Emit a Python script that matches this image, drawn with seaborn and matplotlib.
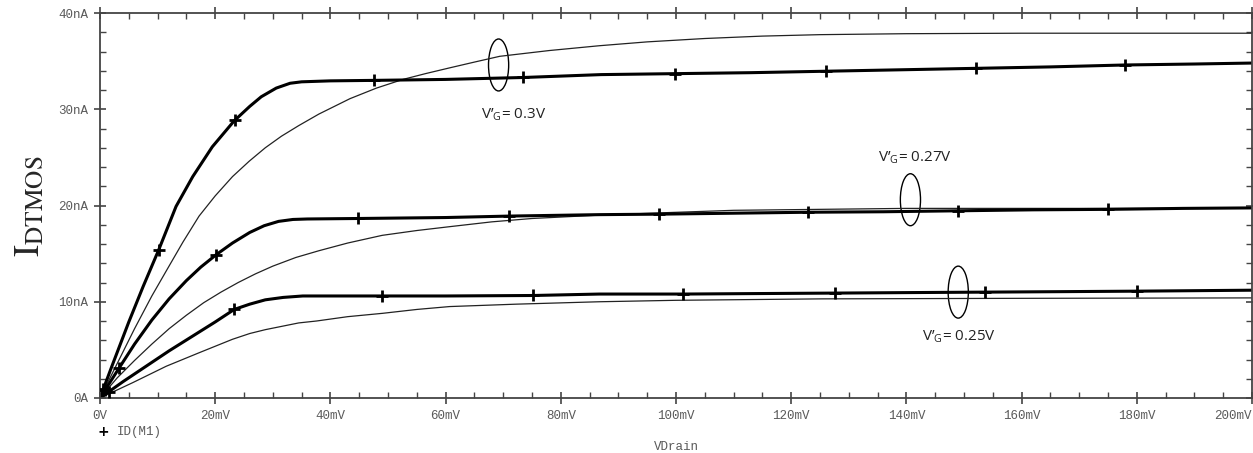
import matplotlib
matplotlib.use('Agg')
import numpy as np
import pandas as pd
import matplotlib.pyplot as plt
import seaborn as sns
from matplotlib.patches import Ellipse
from matplotlib.ticker import MultipleLocator

# --- data (VDrain in mV, ID in nA) ---
# thick curves = ID(M1), thin curves = model
vd_thick_03 = [0, 2, 5, 7.5, 10.2, 13.2, 16.1, 19.5, 23.3, 26, 28, 30.6, 33, 35, 40, 47.6, 60, 73.5,
               87, 100, 113, 126, 139, 152, 165, 178, 190, 200]
id_thick_03 = [0, 3.2, 7.9, 11.6, 15.4, 19.9, 23.0, 26.1, 28.8, 30.3, 31.3, 32.2, 32.7, 32.85, 32.95, 33.0,
               33.1, 33.3, 33.6, 33.7, 33.8, 33.95, 34.1, 34.25, 34.4, 34.6, 34.7, 34.8]

vd_thin_03 = [0, 3, 6, 9, 11.5, 14.4, 17.2, 20, 23, 25.9, 28.7, 31.5, 34.5, 38, 43.4, 48, 52.6, 56.5,
              60.7, 65, 69.4, 78, 86.7, 95, 105, 115, 125, 140, 160, 200]
id_thin_03 = [0, 3.6, 7.2, 10.6, 13.2, 16.2, 18.9, 21.0, 23.0, 24.6, 26.0, 27.2, 28.3, 29.5, 31.1, 32.2,
              33.1, 33.7, 34.3, 34.9, 35.5, 36.1, 36.6, 37.0, 37.35, 37.6, 37.75, 37.85, 37.9, 37.9]

vd_thick_027 = [0, 3.3, 6, 9, 12, 15, 17.5, 20.2, 23, 26, 28.5, 31, 33.5, 36, 44.8, 60, 71, 86.7, 97,
                110, 123, 136, 149, 162, 175, 188, 200]
id_thick_027 = [0, 3.1, 5.6, 8.1, 10.3, 12.2, 13.6, 14.9, 16.1, 17.2, 17.9, 18.35, 18.55, 18.6, 18.65,
                18.75, 18.9, 19.05, 19.1, 19.2, 19.3, 19.35, 19.45, 19.55, 19.6, 19.7, 19.75]

vd_thin_027 = [0, 3, 6, 9, 12, 15, 18, 21, 24, 27, 30, 34, 38, 43, 49, 55, 60.7, 68, 75, 86.7, 98,
               110, 125, 140, 160, 200]
id_thin_027 = [0, 2.1, 3.9, 5.6, 7.2, 8.6, 9.9, 11.0, 12.0, 12.9, 13.7, 14.6, 15.3, 16.1, 16.9, 17.4,
               17.8, 18.3, 18.65, 19.0, 19.25, 19.5, 19.6, 19.7, 19.7, 19.7]

vd_thick_025 = [0, 4, 8, 12, 16, 20, 23.3, 26, 28.7, 31.8, 35.2, 40, 49, 60, 75.2, 86.7, 101.3, 114,
                127.6, 140, 153.6, 167, 180, 190, 200]
id_thick_025 = [0, 1.7, 3.3, 4.9, 6.4, 7.9, 9.2, 9.75, 10.2, 10.45, 10.6, 10.6, 10.6, 10.6, 10.65, 10.8,
                10.8, 10.85, 10.9, 10.95, 11.0, 11.05, 11.1, 11.15, 11.2]

vd_thin_025 = [0, 5.7, 11.5, 17.2, 23, 26, 28.7, 34.5, 37.6, 43, 49.1, 55, 60.7, 72.3, 86.7, 100,
               125.4, 156, 200]
id_thin_025 = [0, 1.6, 3.3, 4.7, 6.1, 6.7, 7.1, 7.8, 8.0, 8.45, 8.8, 9.2, 9.5, 9.75, 10.0, 10.15,
               10.3, 10.35, 10.4]

# "+" markers on the ID(M1) traces
mk_vd_03 = [0.6, 10.2, 23.4, 47.6, 73.5, 99.8, 126, 152, 178]
mk_id_03 = [0.9, 15.4, 28.9, 33.0, 33.3, 33.7, 33.95, 34.25, 34.6]
mk_vd_027 = [0.9, 3.3, 20.2, 44.8, 71, 97, 123, 149, 175]
mk_id_027 = [0.85, 3.1, 14.9, 18.65, 18.9, 19.1, 19.3, 19.45, 19.6]
mk_vd_025 = [1.5, 23.3, 49, 75.2, 101.3, 127.6, 153.6, 180]
mk_id_025 = [0.6, 9.2, 10.6, 10.65, 10.8, 10.9, 11.0, 11.1]

x_ticks = [0, 20, 40, 60, 80, 100, 120, 140, 160, 180, 200]
x_labels = ['0V', '20mV', '40mV', '60mV', '80mV', '100mV', '120mV', '140mV', '160mV', '180mV', '200mV']
y_ticks = [0, 10, 20, 30, 40]
y_labels = ['0A', '10nA', '20nA', '30nA', '40nA']

sns.set_theme(style='white')
plt.rcParams['font.family'] = ['Open Sans', 'DejaVu Sans']
plt.rcParams['mathtext.fontset'] = 'custom'
plt.rcParams['mathtext.rm'] = 'Open Sans'

fig = plt.figure(figsize=(12.53, 4.53), dpi=100)
ax = fig.add_axes([100 / 1253, 55 / 453, 1152 / 1253, 385 / 453])

thick = [(vd_thick_03, id_thick_03), (vd_thick_027, id_thick_027), (vd_thick_025, id_thick_025)]
thin = [(vd_thin_03, id_thin_03), (vd_thin_027, id_thin_027), (vd_thin_025, id_thin_025)]

for vd, i_d in thin:
    sns.lineplot(x=vd, y=i_d, ax=ax, color='#222222', linewidth=0.9, estimator=None, sort=False)
for vd, i_d in thick:
    sns.lineplot(x=vd, y=i_d, ax=ax, color='black', linewidth=2.2, estimator=None, sort=False)

for mx, my in [(mk_vd_03, mk_id_03), (mk_vd_027, mk_id_027), (mk_vd_025, mk_id_025)]:
    sns.scatterplot(x=mx, y=my, ax=ax, marker='+', s=70, color='black', linewidth=2, zorder=5)

ax.set_xlim(0, 200)
ax.set_ylim(0, 40)
ax.set_xticks(x_ticks)
ax.set_xticklabels(x_labels)
ax.set_yticks(y_ticks)
ax.set_yticklabels(y_labels)
ax.xaxis.set_minor_locator(MultipleLocator(5))
ax.yaxis.set_minor_locator(MultipleLocator(2))
ax.tick_params(which='major', direction='inout', length=9, width=1.2, color='#444444',
               top=True, right=True, bottom=True, left=True, pad=4)
ax.tick_params(which='minor', direction='in', length=4, width=1, color='#444444',
               top=True, right=True, bottom=True, left=True)
for lab in ax.get_xticklabels() + ax.get_yticklabels():
    lab.set_fontfamily('Liberation Mono')
    lab.set_fontsize(9)
    lab.set_color('#5a5a5a')
ax.get_xticklabels()[-1].set_horizontalalignment('right')
for sp in ax.spines.values():
    sp.set_color('#444444')
    sp.set_linewidth(1.3)
ax.set_xlabel('')
ax.set_ylabel('')

# hand-drawn ellipses and gate voltage labels
for cx, cy in [(69.2, 34.6), (140.7, 20.6), (149.0, 11.0)]:
    ax.add_patch(Ellipse((cx, cy), width=3.5, height=5.4, fill=False, lw=1, color='black'))

lab_kw = dict(ha='center', va='center', fontsize=11, color='#222222')
ax.text(71.8, 29.4, 'V’$_\\mathregular{G}$= 0.3V', **lab_kw)
ax.text(141.5, 25.0, 'V’$_\\mathregular{G}$= 0.27V', **lab_kw)
ax.text(149.1, 6.4, 'V’$_\\mathregular{G}$= 0.25V', **lab_kw)

fig.text(0.024, 0.545, r'$\mathrm{I}_{\mathrm{DTMOS}}$', rotation=90, fontsize=26,
         math_fontfamily='stix', ha='center', va='center')
fig.text(0.0825, 0.046, '+', fontsize=10, fontweight='bold', color='black', ha='center', va='center',
         family='DejaVu Sans')
fig.text(0.0934, 0.046, 'ID(M1)', fontsize=9, color='#5a5a5a', ha='left', va='center',
         family='Liberation Mono')
fig.text(0.540, 0.013, 'VDrain', fontsize=9, color='#5a5a5a', ha='center', va='center',
         family='Liberation Mono')

fig.savefig('out.png', dpi=100)
